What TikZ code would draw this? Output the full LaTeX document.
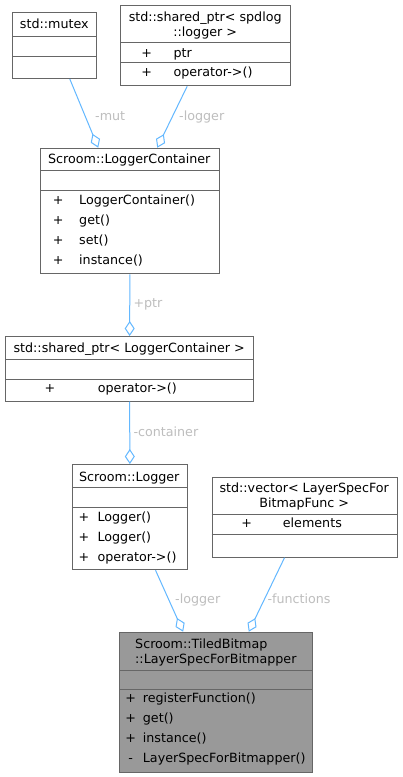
\documentclass[tikz,border=0pt]{standalone}
\usepackage{fontspec}
\setmainfont{DejaVu Sans}
\usetikzlibrary{arrows.meta}
\definecolor{bordergray}{HTML}{666666}
\definecolor{edgeblue}{HTML}{63B8FF}
\definecolor{labelgray}{HTML}{BEBEBE}
\definecolor{focusgray}{HTML}{999999}
\begin{document}
\begin{tikzpicture}[x=1pt,y=-1pt,
  every node/.style={font=\fontsize{12.7}{15}\selectfont, inner sep=0pt},
  box/.style={draw=bordergray, line width=1pt, fill=white, rectangle, anchor=north west},
  focusbox/.style={box, fill=focusgray},
  div/.style={draw=bordergray, line width=1pt},
  ctext/.style={anchor=base},
  ltext/.style={anchor=base west},
  lbl/.style={anchor=base west, text=labelgray},
  edge/.style={draw=edgeblue, line width=1pt, -{Diamond[open,length=15pt,width=10pt,line width=1pt]}}]
\useasboundingbox (0,0) rectangle (402,777);
\fill[white] (0,0) rectangle (402,777);

% std::mutex
\node[box, minimum width=84pt, minimum height=66pt] (mutex) at (12,12) {};
\draw[div] (mutex.west |- 0,36) -- (mutex.east |- 0,36);
\draw[div] (mutex.west |- 0,56) -- (mutex.east |- 0,56);
\node[ctext] (mutexT) at (54.3,28.7) {std::mutex};

% std::shared_ptr< spdlog::logger >
\node[box, minimum width=169.7pt, minimum height=80.6pt] (spd) at (120.3,4.7) {};
\draw[div] (spd.west |- 0,42.7) -- (spd.east |- 0,42.7);
\draw[div] (spd.west |- 0,62.3) -- (spd.east |- 0,62.3);
\node[ctext] (spdT1) at (205.2,21.2) {std::shared\_ptr< spdlog};
\node[ctext] (spdT2) at (205.2,36.2) {::logger >};
\node[ctext] (spdP1) at (146.7,57) {+};
\node[ltext] (spdA1) at (173.3,57) {ptr};
\node[ctext] (spdP2) at (146.7,76.5) {+};
\node[ltext] (spdM1) at (173.3,76.5) {operator->()};

% Scroom::LoggerContainer
\node[box, minimum width=178.7pt, minimum height=125.6pt] (lc) at (40,147.7) {};
\draw[div] (lc.west |- 0,170.7) -- (lc.east |- 0,170.7);
\draw[div] (lc.west |- 0,190.7) -- (lc.east |- 0,190.7);
\node[ctext] (lcT) at (129.3,163.8) {Scroom::LoggerContainer};
\node[ctext] (lcP1) at (58.3,204.5) {+};
\node[ltext] (lcM1) at (79,204.5) {LoggerContainer()};
\node[ctext] (lcP2) at (58.3,224.5) {+};
\node[ltext] (lcM2) at (79,224.5) {get()};
\node[ctext] (lcP3) at (58.3,244.5) {+};
\node[ltext] (lcM3) at (79,244.5) {set()};
\node[ctext] (lcP4) at (58.3,264.5) {+};
\node[ltext] (lcM4) at (79,264.5) {instance()};

% std::shared_ptr< LoggerContainer >
\node[box, minimum width=248.3pt, minimum height=64.7pt] (splc) at (5,336) {};
\draw[div] (splc.west |- 0,359.3) -- (splc.east |- 0,359.3);
\draw[div] (splc.west |- 0,379.3) -- (splc.east |- 0,379.3);
\node[ctext] (splcT) at (129.2,352.8) {std::shared\_ptr< LoggerContainer >};
\node[ctext] (splcP1) at (50,392.8) {+};
\node[ltext] (splcM1) at (97.7,392.8) {operator->()};

% Scroom::Logger
\node[box, minimum width=114.7pt, minimum height=105.3pt] (lg) at (72,464) {};
\draw[div] (lg.west |- 0,487.3) -- (lg.east |- 0,487.3);
\draw[div] (lg.west |- 0,507.3) -- (lg.east |- 0,507.3);
\node[ctext] (lgT) at (129.3,481.2) {Scroom::Logger};
\node[ctext] (lgP1) at (84,521.2) {+};
\node[ltext] (lgM1) at (97.3,521.2) {Logger()};
\node[ctext] (lgP2) at (84,541.2) {+};
\node[ltext] (lgM2) at (97.3,541.2) {Logger()};
\node[ctext] (lgP3) at (84,561) {+};
\node[ltext] (lgM3) at (97.3,561) {operator->()};

% std::vector< LayerSpecForBitmapFunc >
\node[box, minimum width=185pt, minimum height=80pt] (vec) at (211.7,476.7) {};
\draw[div] (vec.west |- 0,514) -- (vec.east |- 0,514);
\draw[div] (vec.west |- 0,534) -- (vec.east |- 0,534);
\node[ctext] (vecT1) at (304.2,492.8) {std::vector< LayerSpecFor};
\node[ctext] (vecT2) at (304.2,507.2) {BitmapFunc >};
\node[ctext] (vecP1) at (246.7,527.2) {+};
\node[ltext] (vecA1) at (282.7,527.2) {elements};

% Scroom::TiledBitmap::LayerSpecForBitmapper
\node[focusbox, minimum width=193.3pt, minimum height=140pt] (ls) at (119,631.7) {};
\draw[div] (ls.west |- 0,670) -- (ls.east |- 0,670);
\draw[div] (ls.west |- 0,689.3) -- (ls.east |- 0,689.3);
\node[ltext] (lsT1) at (135,648.5) {Scroom::TiledBitmap};
\node[ltext] (lsT2) at (135,663.8) {::LayerSpecForBitmapper};
\node[ctext] (lsP1) at (130.7,702.8) {+};
\node[ltext] (lsM1) at (142.7,702.8) {registerFunction()};
\node[ctext] (lsP2) at (130.7,722.8) {+};
\node[ltext] (lsM2) at (142.7,722.8) {get()};
\node[ctext] (lsP3) at (130.7,742.8) {+};
\node[ltext] (lsM3) at (142.7,742.8) {instance()};
\node[ctext] (lsP4) at (130.7,762.8) {-};
\node[ltext] (lsM4) at (142.7,762.8) {LayerSpecForBitmapper()};

% connectors
\draw[edge] ([xshift=15.3pt]mutex.south) -- ([xshift=-31.6pt]lc.north);
\draw[edge] ([xshift=-18.5pt]spd.south) -- ([xshift=27.4pt]lc.north);
\draw[edge] (lc.south) -- (splc.north);
\draw[edge] (splc.south) -- (lg.north);
\draw[edge] ([xshift=25.7pt]lg.south) -- ([xshift=-33pt]ls.north);
\draw[edge] ([xshift=-20.2pt]vec.south) -- ([xshift=32.6pt]ls.north);

% connector labels
\node[lbl] (lMut) at (95,120) {-mut};
\node[lbl] (lLogger1) at (179,120) {-logger};
\node[lbl] (lPtr) at (133.3,307.8) {+ptr};
\node[lbl] (lCont) at (133.3,436.2) {-container};
\node[lbl] (lLogger2) at (175,603.8) {-logger};
\node[lbl] (lFunc) at (267.3,603.8) {-functions};
\end{tikzpicture}
\end{document}
